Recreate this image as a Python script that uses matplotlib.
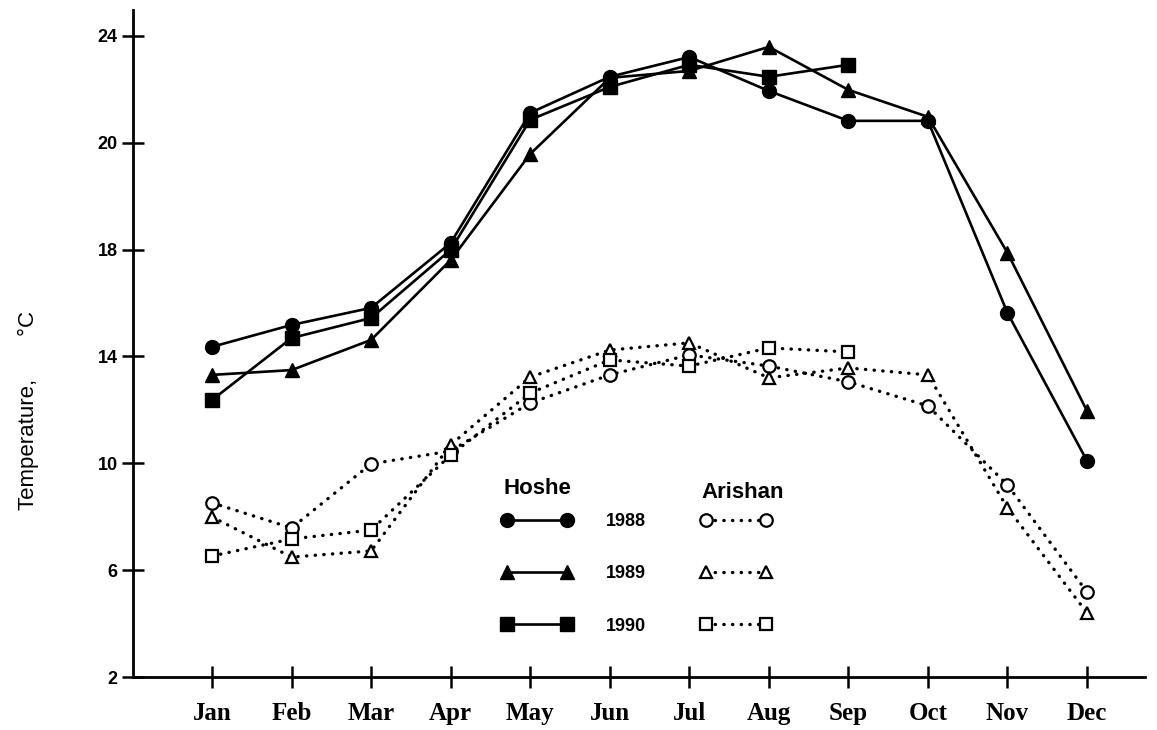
import matplotlib
matplotlib.use('Agg')
import matplotlib.pyplot as plt

months = ['Jan', 'Feb', 'Mar', 'Apr', 'May', 'Jun', 'Jul', 'Aug', 'Sep', 'Oct', 'Nov', 'Dec']
# y positions are on the evenly spaced axis; tick labels copied as printed
ytick_pos = [2, 6, 10, 14, 18, 22, 26]
ytick_labels = ['2', '6', '10', '14', '18', '20', '24']

hoshe_1988 = [14.36, 15.18, 15.82, 18.25, 23.12, 24.47, 25.21, 23.94, 22.82, 22.82, 15.63, 10.09]
hoshe_1989 = [13.31, 13.49, 14.62, 17.61, 21.58, 24.43, 24.69, 25.59, 23.98, 22.97, 17.88, 11.96]
hoshe_1990 = [12.37, 14.69, 15.44, 17.99, 22.86, 24.09, 24.92, 24.47, 24.92]

arishan_1988 = [8.52, 7.58, 9.98, 10.46, 12.26, 13.31, 14.06, 13.64, 13.05, 12.15, 9.19, 5.18]
arishan_1989 = [7.99, 6.49, 6.72, 10.69, 13.23, 14.24, 14.51, 13.20, 13.57, 13.31, 8.33, 4.40]
arishan_1990 = [6.53, 7.17, 7.50, 10.31, 12.63, 13.87, 13.64, 14.32, 14.17]

years = ['1988', '1989', '1990']

fig = plt.figure(figsize=(11.57, 7.30), dpi=100)
ax = fig.add_axes([0.1150, 0.0726, 0.8747, 0.9137])

x = list(range(1, 13))
solid = dict(color='black', lw=1.9, markersize=10, clip_on=False)
dots = dict(color='black', lw=2.4, linestyle=(0, (0.1, 2.5)), dash_capstyle='round',
            markersize=9, markerfacecolor='white', markeredgewidth=1.6, clip_on=False)

h1, = ax.plot(x[:len(hoshe_1988)], hoshe_1988, marker='o', **solid)
h2, = ax.plot(x[:len(hoshe_1989)], hoshe_1989, marker='^', **solid)
h3, = ax.plot(x[:len(hoshe_1990)], hoshe_1990, marker='s', **solid)
a1, = ax.plot(x[:len(arishan_1988)], arishan_1988, marker='o', **dots)
a2, = ax.plot(x[:len(arishan_1989)], arishan_1989, marker='^', **dots)
a3, = ax.plot(x[:len(arishan_1990)], arishan_1990, marker='s', **dots)

ax.set_xlim(0.007, 12.73)
ax.set_ylim(2, 26.97)
ax.set_xticks(x)
ax.set_xticklabels(months, fontfamily='Liberation Serif', fontweight='bold', fontsize=18)
ax.set_yticks(ytick_pos)
ax.set_yticklabels(ytick_labels, fontfamily='Liberation Sans', fontweight='bold', fontsize=13)
ax.tick_params(axis='x', direction='inout', length=16, width=1.8, pad=10)
ax.tick_params(axis='y', direction='inout', length=16, width=1.8, pad=3)

for s in ['top', 'right']:
    ax.spines[s].set_visible(False)
for s in ['left', 'bottom']:
    ax.spines[s].set_linewidth(2.0)

fig.text(0.025, 0.438, 'Temperature,       \u00b0C', rotation=90, ha='center', va='center',
         fontfamily='Liberation Sans', fontsize=16)

# legend: Hoshe handles with year labels, Arishan handles with no label
leg = ax.legend([h1, h2, h3, a1, a2, a3], years + ['', '', ''], ncol=2, numpoints=2,
                loc='upper left', bbox_to_anchor=(0.364, 0.2455), frameon=False,
                handlelength=3.95, handletextpad=1.85, columnspacing=3.0,
                labelspacing=1.95, borderpad=0, borderaxespad=0,
                prop={'family': 'Liberation Sans', 'weight': 'bold', 'size': 13})
ax.text(0.3665, 0.283, 'Hoshe', transform=ax.transAxes, fontfamily='Liberation Sans',
        fontweight='bold', fontsize=16, va='center', ha='left')
ax.text(0.5616, 0.277, 'Arishan', transform=ax.transAxes, fontfamily='Liberation Sans',
        fontweight='bold', fontsize=16, va='center', ha='left')

fig.savefig('out.png', dpi=100)
